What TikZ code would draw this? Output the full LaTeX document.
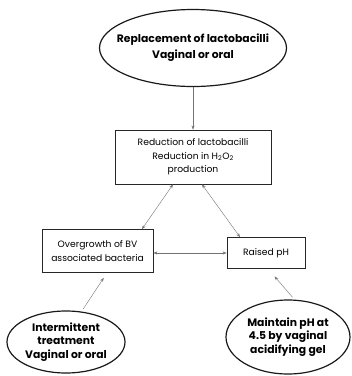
\documentclass[tikz,border=0pt]{standalone}
\usepackage{fontspec}
\setmainfont{Poppins}
\usetikzlibrary{shapes.geometric,arrows.meta}

\begin{document}
\begin{tikzpicture}[x=1pt,y=-1pt,
	box/.style={draw=black!85,thick,fill=white},
	oval/.style={draw=black!90,very thick,ellipse},
	boxtext/.style={align=center,font=\fontsize{9.2}{13.5}\selectfont},
	ovaltext/.style={align=center,font=\bfseries\fontsize{10.8}{13.6}\selectfont},
	link/.style={draw=black!55,-{Stealth[length=4pt,width=3pt]}},
	dlink/.style={draw=black!55,{Stealth[length=4pt,width=3pt]}-{Stealth[length=4pt,width=3pt]}}]
			\useasboundingbox (0,0) rectangle (352,376);
			\coordinate (c1) at (193,48);
			\coordinate (c2) at (193,157);
			\coordinate (c3) at (97.5,251);
			\coordinate (c4) at (266,253);
			\coordinate (c5) at (66,342);
			\coordinate (c6) at (288,337);
			
			% ovals
			\node (repl) at (c1) [oval,minimum width=187pt,minimum height=77pt] {};
			\node (inter) at (c5) [oval,minimum width=118pt,minimum height=62pt] {};
			\node (acid) at (c6) [oval,minimum width=124pt,minimum height=74pt] {};
			\node (repltext) at (c1) [ovaltext,font=\bfseries\fontsize{10.8}{16}\selectfont] {Replacement of lactobacilli\\Vaginal or oral};
			\node (intertext) at (c5) [ovaltext] {Intermittent\\treatment\\Vaginal or oral};
			\node (acidtext) at (c6) [ovaltext] {Maintain pH at\\4.5 by vaginal\\acidifying gel};
			
			% boxes
			\node (redu) at (c2) [box,boxtext,minimum width=156pt,minimum height=54pt] {Reduction of lactobacilli\\Reduction in H\textsubscript{2}O\textsubscript{2}\\production};
			\node (over) at (c3) [box,boxtext,minimum width=111pt,minimum height=43pt] {Overgrowth of BV\\associated bacteria};
			\node (ph) at (c4) [box,boxtext,minimum width=78pt,minimum height=31pt] {Raised pH};
			
			\draw[link] (repl) -- (redu);
			\draw[dlink] ([xshift=-20pt]redu.south) -- ([xshift=44.5pt]over.north);
			\draw[dlink] ([xshift=9pt]redu.south) -- ([xshift=-26pt]ph.north);
			\draw[dlink] (over.east |- ph.west) -- (ph.west);
			\draw[link,shorten <=3pt,shorten >=6pt] (inter.63) -- ([xshift=9.5pt]over.south);
			\draw[link,shorten <=3pt,shorten >=10pt] (acid.80) -- ([xshift=2pt]ph.south);
		\end{tikzpicture}
\end{document}
